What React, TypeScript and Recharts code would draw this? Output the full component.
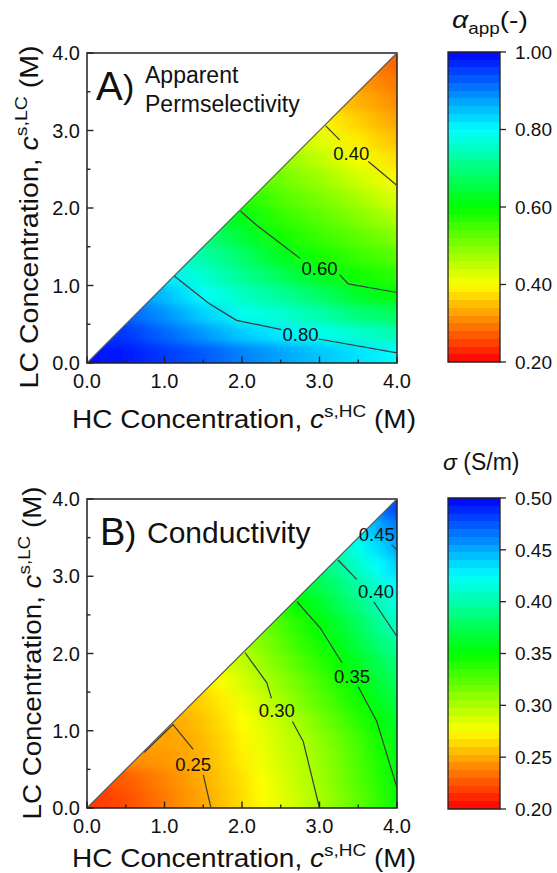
import React from "react";
import {
  ComposedChart,
  XAxis,
  YAxis,
  ReferenceArea,
  ReferenceLine,
  Line,
  Scatter,
} from "recharts";

type Pt = { x: number; y: number };
type Tag = { x: number; y: number; text: string };

const FONT = '"Liberation Sans", Arial, Helvetica, sans-serif';
const INK = "#111";
const AXIS = "#222";
const ROW_OVERLAP = 20; // px each colour row reaches into the rows above, for the vertical cross-fade

const axisTicks = [0, 0.5, 1, 1.5, 2, 2.5, 3, 3.5, 4];
// bottom edge of each colour row (LC concentration, M)
const rowBottoms = [0, 0.25, 0.5, 0.75, 1, 1.25, 1.5, 1.75, 2, 2.25, 2.5, 2.75, 3, 3.25, 3.5, 3.75];

// ---- Panel A: apparent permselectivity, read at row centres ----
const alphaNodes = [0, 0.5, 1, 1.5, 2, 2.5, 3, 3.5, 4];
const alphaRows: (number | null)[][] = [
  [0.99, 0.98, 0.955, 0.93, 0.9, 0.872, 0.845, 0.822, 0.8],
  [0.96, 0.955, 0.92, 0.88, 0.84, 0.813, 0.787, 0.762, 0.738],
  [null, 0.925, 0.885, 0.836, 0.787, 0.765, 0.734, 0.696, 0.673],
  [null, 0.89, 0.85, 0.795, 0.752, 0.72, 0.68, 0.632, 0.607],
  [null, null, 0.81, 0.762, 0.716, 0.67, 0.625, 0.587, 0.569],
  [null, null, 0.77, 0.732, 0.682, 0.625, 0.584, 0.556, 0.533],
  [null, null, null, 0.7, 0.647, 0.588, 0.556, 0.526, 0.497],
  [null, null, null, 0.665, 0.613, 0.562, 0.53, 0.497, 0.462],
  [null, null, null, null, 0.578, 0.537, 0.505, 0.468, 0.427],
  [null, null, null, null, 0.545, 0.512, 0.478, 0.438, 0.397],
  [null, null, null, null, null, 0.487, 0.45, 0.41, 0.376],
  [null, null, null, null, null, 0.46, 0.423, 0.385, 0.35],
  [null, null, null, null, null, null, 0.397, 0.362, 0.328],
  [null, null, null, null, null, null, 0.372, 0.34, 0.31],
  [null, null, null, null, null, null, null, 0.32, 0.293],
  [null, null, null, null, null, null, null, 0.3, 0.278],
];
const alphaBarTicks = [0.2, 0.4, 0.6, 0.8, 1.0];

const alpha80a: Pt[] = [{ x: 1.13, y: 1.12 }, { x: 1.57, y: 0.77 }, { x: 1.93, y: 0.55 }, { x: 2.51, y: 0.43 }];
const alpha80b: Pt[] = [{ x: 2.99, y: 0.31 }, { x: 4, y: 0.13 }];
const alpha60a: Pt[] = [{ x: 1.98, y: 1.96 }, { x: 2.21, y: 1.76 }, { x: 2.75, y: 1.35 }];
const alpha60b: Pt[] = [{ x: 3.26, y: 1.14 }, { x: 3.37, y: 1.02 }, { x: 4, y: 0.91 }];
const alpha40a: Pt[] = [{ x: 3.08, y: 3.06 }, { x: 3.26, y: 2.88 }];
const alpha40b: Pt[] = [{ x: 3.63, y: 2.6 }, { x: 4, y: 2.29 }];
const alphaTags: Tag[] = [
  { x: 2.755, y: 0.37, text: "0.80" },
  { x: 3.0, y: 1.22, text: "0.60" },
  { x: 3.41, y: 2.71, text: "0.40" },
];

// ---- Panel B: conductivity (S/m), read at row centres ----
const sigmaNodes = [0, 0.25, 0.5, 0.75, 1, 1.25, 1.5, 1.75, 2, 2.25, 2.5, 2.75, 3, 3.25, 3.5, 3.75, 4];
const sigmaRows: (number | null)[][] = [
  [0.216, 0.219, 0.223, 0.229, 0.236, 0.243, 0.249, 0.257, 0.265, 0.274, 0.283, 0.292, 0.301, 0.312, 0.323, 0.335, 0.347],
  [null, 0.225, 0.228, 0.233, 0.239, 0.245, 0.251, 0.259, 0.267, 0.276, 0.285, 0.294, 0.303, 0.314, 0.326, 0.338, 0.35],
  [null, null, 0.24, 0.243, 0.245, 0.248, 0.253, 0.261, 0.27, 0.279, 0.288, 0.296, 0.305, 0.316, 0.328, 0.341, 0.353],
  [null, null, null, 0.249, 0.248, 0.249, 0.255, 0.263, 0.272, 0.281, 0.29, 0.298, 0.308, 0.319, 0.331, 0.344, 0.357],
  [null, null, null, null, 0.25, 0.252, 0.258, 0.266, 0.275, 0.284, 0.293, 0.303, 0.314, 0.326, 0.338, 0.351, 0.363],
  [null, null, null, null, null, 0.257, 0.262, 0.27, 0.28, 0.29, 0.301, 0.312, 0.323, 0.334, 0.346, 0.358, 0.37],
  [null, null, null, null, null, null, 0.268, 0.277, 0.287, 0.297, 0.307, 0.318, 0.329, 0.341, 0.353, 0.365, 0.378],
  [null, null, null, null, null, null, null, 0.284, 0.293, 0.304, 0.315, 0.326, 0.337, 0.348, 0.36, 0.373, 0.386],
  [null, null, null, null, null, null, null, null, 0.3, 0.311, 0.322, 0.334, 0.345, 0.357, 0.37, 0.383, 0.396],
  [null, null, null, null, null, null, null, null, null, 0.318, 0.328, 0.34, 0.352, 0.364, 0.377, 0.393, 0.407],
  [null, null, null, null, null, null, null, null, null, null, 0.34, 0.35, 0.362, 0.375, 0.388, 0.402, 0.416],
  [null, null, null, null, null, null, null, null, null, null, null, 0.362, 0.372, 0.384, 0.398, 0.412, 0.426],
  [null, null, null, null, null, null, null, null, null, null, null, null, 0.385, 0.396, 0.41, 0.424, 0.438],
  [null, null, null, null, null, null, null, null, null, null, null, null, null, 0.405, 0.42, 0.435, 0.45],
  [null, null, null, null, null, null, null, null, null, null, null, null, null, null, 0.432, 0.448, 0.463],
  [null, null, null, null, null, null, null, null, null, null, null, null, null, null, null, 0.462, 0.48],
];
const sigmaBarTicks = [0.2, 0.25, 0.3, 0.35, 0.4, 0.45, 0.5];

const sigma25a: Pt[] = [{ x: 0.74, y: 0.72 }, { x: 1.11, y: 1.08 }, { x: 1.37, y: 0.76 }];
const sigma25b: Pt[] = [{ x: 1.5, y: 0.43 }, { x: 1.6, y: 0 }];
const sigma30a: Pt[] = [{ x: 2.04, y: 2.01 }, { x: 2.32, y: 1.62 }, { x: 2.38, y: 1.42 }];
const sigma30b: Pt[] = [{ x: 2.65, y: 1.12 }, { x: 2.79, y: 0.86 }, { x: 3.0, y: 0 }];
const sigma35a: Pt[] = [{ x: 2.71, y: 2.67 }, { x: 3.01, y: 2.33 }, { x: 3.29, y: 1.88 }];
const sigma35b: Pt[] = [{ x: 3.5, y: 1.57 }, { x: 3.74, y: 1.12 }, { x: 4, y: 0.26 }];
const sigma40a: Pt[] = [{ x: 3.24, y: 3.21 }, { x: 3.48, y: 2.96 }];
const sigma40b: Pt[] = [{ x: 3.7, y: 2.67 }, { x: 4, y: 2.22 }];
const sigma45b: Pt[] = [{ x: 3.93, y: 3.41 }, { x: 4, y: 3.34 }];
const sigmaTags: Tag[] = [
  { x: 1.37, y: 0.57, text: "0.25" },
  { x: 2.45, y: 1.27, text: "0.30" },
  { x: 3.42, y: 1.7, text: "0.35" },
  { x: 3.73, y: 2.8, text: "0.40" },
  { x: 3.74, y: 3.54, text: "0.45" },
];

// rainbow: red -> yellow -> green -> cyan -> blue
const RAMP = [
  [255, 0, 0],
  [255, 255, 0],
  [0, 255, 0],
  [0, 255, 255],
  [0, 0, 255],
];
function colorOf(v: number, lo: number, hi: number) {
  const t = Math.max(0, Math.min(1, (v - lo) / (hi - lo))) * 4;
  const k = Math.min(3, Math.floor(t));
  const f = t - k;
  const a = RAMP[k];
  const b = RAMP[k + 1];
  const c = a.map((ch, i) => Math.round(ch + (b[i] - ch) * f));
  return `rgb(${c[0]},${c[1]},${c[2]})`;
}

function rowGradients(name: string, nodes: number[], rows: (number | null)[][], lo: number, hi: number) {
  return rows.map((row, i) => {
    const s = row.findIndex((v) => v !== null);
    const x0 = nodes[s];
    const x1 = nodes[nodes.length - 1];
    return (
      <linearGradient key={`${name}${i}`} id={`${name}${i}`} x1="0" y1="0" x2="1" y2="0">
        {row.map((v, j) =>
          v === null ? null : (
            <stop key={j} offset={(nodes[j] - x0) / (x1 - x0)} stopColor={colorOf(v, lo, hi)} />
          )
        )}
      </linearGradient>
    );
  });
}

function barGradient(name: string, lo: number, hi: number) {
  const n = 40;
  const stops = [];
  for (let k = 0; k < n; k++) {
    const c = colorOf(lo + ((k + 0.5) * (hi - lo)) / n, lo, hi);
    stops.push(<stop key={`a${k}`} offset={k / n} stopColor={c} />);
    stops.push(<stop key={`b${k}`} offset={(k + 1) / n} stopColor={c} />);
  }
  return (
    <linearGradient id={name} x1="0" y1="1" x2="0" y2="0">
      {stops}
    </linearGradient>
  );
}

const isMajor = (v: number) => Math.abs(v - Math.round(v)) < 1e-6;

const bottomTick = (props: any) => {
  const { x, y, payload } = props;
  const v = payload.value as number;
  const major = isMajor(v);
  return (
    <g>
      <line x1={x} x2={x} y1={y} y2={y - (major ? 6.5 : 3.5)} stroke={AXIS} strokeWidth={1.4} />
      {major && (
        <text x={x} y={y + 25} textAnchor="middle" fontSize={20} fill={INK} fontFamily={FONT}>
          {v.toFixed(1)}
        </text>
      )}
    </g>
  );
};

const leftTick = (props: any) => {
  const { x, y, payload } = props;
  const v = payload.value as number;
  const major = isMajor(v);
  return (
    <g>
      <line x1={x} x2={x + (major ? 6.5 : 3.5)} y1={y} y2={y} stroke={AXIS} strokeWidth={1.4} />
      {major && (
        <text x={x - 7} y={y + 7} textAnchor="end" fontSize={20} fill={INK} fontFamily={FONT}>
          {v.toFixed(1)}
        </text>
      )}
    </g>
  );
};

const tagShape = (props: any) => (
  <text
    x={props.cx}
    y={props.cy}
    dy="0.36em"
    textAnchor="middle"
    fontSize={18.5}
    fill={INK}
    fontFamily={FONT}
  >
    {props.payload.text}
  </text>
);

const noMark = () => <g />;

interface FieldProps {
  name: string;
  nodes: number[];
  rows: (number | null)[][];
  segments: Pt[][];
  tags: Tag[];
  top: number;
  height: number;
  mTop: number;
  mBottom: number;
}

function Field({ name, nodes, rows, segments, tags, top, height, mTop, mBottom }: FieldProps) {
  const xEnd = nodes[nodes.length - 1];
  const clip = `clip-${name}`;
  return (
    <div style={{ position: "absolute", left: 0, top }}>
      <ComposedChart width={420} height={height} margin={{ top: mTop, right: 23, bottom: mBottom, left: 27 }}>
        {rows.map((row, i) => {
          const s = row.findIndex((v) => v !== null);
          const y1 = rowBottoms[i];
          const y2 = i + 1 < rowBottoms.length ? rowBottoms[i + 1] : 4;
          const below = i === 0 ? ROW_OVERLAP : 0;
          return (
            <ReferenceArea
              key={`r${i}`}
              x1={nodes[s]}
              x2={xEnd}
              y1={y1}
              y2={y2}
              shape={(p: any) => (
                <rect
                  x={p.x}
                  y={p.y - ROW_OVERLAP}
                  width={p.width}
                  height={p.height + ROW_OVERLAP + below}
                  fill={`url(#${name}${i})`}
                  filter="url(#vblur)"
                  clipPath={`url(#${clip})`}
                />
              )}
            />
          );
        })}
        <ReferenceArea
          x1={0}
          x2={4}
          y1={0}
          y2={4}
          shape={(p: any) => (
            <g>
              <defs>
                <clipPath id={clip}>
                  <rect x={p.x} y={p.y} width={p.width} height={p.height} />
                </clipPath>
              </defs>
              <polygon
                points={`${p.x},${p.y} ${p.x + p.width},${p.y} ${p.x},${p.y + p.height}`}
                fill="#ffffff"
              />
            </g>
          )}
        />
        <ReferenceLine segment={[{ x: 0, y: 0 }, { x: 4, y: 4 }]} stroke="#5a5a5a" strokeWidth={1.2} />
        {segments.map((seg, i) => (
          <Line
            key={`c${i}`}
            data={seg}
            dataKey="y"
            type="linear"
            stroke="#3c3c3c"
            strokeWidth={1.2}
            dot={false}
            activeDot={false}
            isAnimationActive={false}
          />
        ))}
        <Scatter data={tags} dataKey="y" shape={tagShape} isAnimationActive={false} />
        <ReferenceArea x1={0} x2={4} y1={0} y2={4} fill="none" fillOpacity={0} stroke={AXIS} strokeWidth={1.5} />
        <XAxis
          type="number"
          dataKey="x"
          domain={[0, 4]}
          ticks={axisTicks}
          interval={0}
          height={40}
          axisLine={false}
          tickLine={false}
          tickSize={0}
          tickMargin={0}
          tick={bottomTick}
        />
        <YAxis
          type="number"
          dataKey="y"
          domain={[0, 4]}
          ticks={axisTicks}
          interval={0}
          width={60}
          axisLine={false}
          tickLine={false}
          tickSize={0}
          tickMargin={0}
          tick={leftTick}
        />
      </ComposedChart>
    </div>
  );
}

interface BarProps {
  name: string;
  lo: number;
  hi: number;
  ticks: number[];
  top: number;
  height: number;
  mTop: number;
  mBottom: number;
}

function ColorBar({ name, lo, hi, ticks, top, height, mTop, mBottom }: BarProps) {
  const probe = ticks.map((t) => ({ x: 0.5, y: t }));
  return (
    <div style={{ position: "absolute", left: 420, top }}>
      <ComposedChart width={137} height={height} margin={{ top: mTop, right: 7, bottom: mBottom, left: 28 }}>
        <ReferenceArea x1={0} x2={1} y1={lo} y2={hi} fill={`url(#${name})`} fillOpacity={1} stroke={AXIS} strokeWidth={1.3} />
        <Scatter data={probe} dataKey="y" shape={noMark} isAnimationActive={false} />
        <XAxis type="number" dataKey="x" domain={[0, 1]} hide />
        <YAxis
          type="number"
          dataKey="y"
          orientation="right"
          domain={[lo, hi]}
          ticks={ticks}
          interval={0}
          width={50}
          axisLine={false}
          tickSize={6}
          tickMargin={9}
          tickLine={{ stroke: AXIS, strokeWidth: 1.3 }}
          tick={{ fontSize: 19, fill: INK, fontFamily: FONT }}
          tickFormatter={(v: number) => v.toFixed(2)}
        />
      </ComposedChart>
    </div>
  );
}

export default function App() {
  return (
    <div style={{ position: "absolute", left: 0, top: 0, width: 557, height: 873, background: "#fff", fontFamily: FONT }}>
      <svg width={0} height={0} style={{ position: "absolute" }}>
        <defs>
          <filter id="vblur" filterUnits="userSpaceOnUse" x={-100} y={-100} width={800} height={1100}>
            <feGaussianBlur stdDeviation="0 5" />
          </filter>
          {rowGradients("ga", alphaNodes, alphaRows, 0.2, 1.0)}
          {rowGradients("gb", sigmaNodes, sigmaRows, 0.2, 0.5)}
          {barGradient("cba", 0.2, 1.0)}
          {barGradient("cbb", 0.2, 0.5)}
        </defs>
      </svg>

      <Field
        name="ga"
        nodes={alphaNodes}
        rows={alphaRows}
        segments={[alpha80a, alpha80b, alpha60a, alpha60b, alpha40a, alpha40b]}
        tags={alphaTags}
        top={0}
        height={440}
        mTop={53}
        mBottom={37}
      />
      <ColorBar name="cba" lo={0.2} hi={1.0} ticks={alphaBarTicks} top={0} height={440} mTop={52} mBottom={78} />

      <Field
        name="gb"
        nodes={sigmaNodes}
        rows={sigmaRows}
        segments={[sigma25a, sigma25b, sigma30a, sigma30b, sigma35a, sigma35b, sigma40a, sigma40b, sigma45b]}
        tags={sigmaTags}
        top={440}
        height={433}
        mTop={59}
        mBottom={25}
      />
      <ColorBar name="cbb" lo={0.2} hi={0.5} ticks={sigmaBarTicks} top={440} height={433} mTop={58} mBottom={64} />

      <svg
        width={557}
        height={873}
        style={{ position: "absolute", left: 0, top: 0, pointerEvents: "none" }}
        fontFamily={FONT}
        fill={INK}
      >
        {/* panel A titles */}
        <text transform="translate(38 217) rotate(-90)" textAnchor="middle" fontSize={25} textLength={343} lengthAdjust="spacingAndGlyphs">
          LC Concentration,{" "}
          <tspan fontStyle="italic">c</tspan>
          <tspan fontSize={17} dy={-11}>s,LC</tspan>
          <tspan dy={11}>{" (M)"}</tspan>
        </text>
        <text x={72} y={428} fontSize={25} textLength={344} lengthAdjust="spacingAndGlyphs">
          HC Concentration,{" "}
          <tspan fontStyle="italic">c</tspan>
          <tspan fontSize={17} dy={-11}>s,HC</tspan>
          <tspan dy={11}>{" (M)"}</tspan>
        </text>
        <text x={96} y={100} fontSize={40}>A</text>
        <text x={123} y={98} fontSize={34}>)</text>
        <text x={145} y={83} fontSize={23}>Apparent</text>
        <text x={145} y={112} fontSize={23}>Permselectivity</text>
        <text x={452} y={28} fontSize={24} textLength={76} lengthAdjust="spacingAndGlyphs">
          <tspan fontStyle="italic">α</tspan>
          <tspan fontSize={16} dy={6}>app</tspan>
          <tspan dy={-6}>(-)</tspan>
        </text>

        {/* panel B titles */}
        <text transform="translate(41 653) rotate(-90)" textAnchor="middle" fontSize={25} textLength={333} lengthAdjust="spacingAndGlyphs">
          LC Concentration,{" "}
          <tspan fontStyle="italic">c</tspan>
          <tspan fontSize={17} dy={-11}>s,LC</tspan>
          <tspan dy={11}>{" (M)"}</tspan>
        </text>
        <text x={72} y={867} fontSize={25} textLength={344} lengthAdjust="spacingAndGlyphs">
          HC Concentration,{" "}
          <tspan fontStyle="italic">c</tspan>
          <tspan fontSize={17} dy={-11}>s,HC</tspan>
          <tspan dy={11}>{" (M)"}</tspan>
        </text>
        <text x={100} y={545} fontSize={38}>B</text>
        <text x={125} y={545} fontSize={34}>)</text>
        <text x={147} y={543} fontSize={30}>Conductivity</text>
        <text x={443} y={470} fontSize={23}>
          <tspan fontStyle="italic">σ</tspan>
          {" (S/m)"}
        </text>
      </svg>
    </div>
  );
}
